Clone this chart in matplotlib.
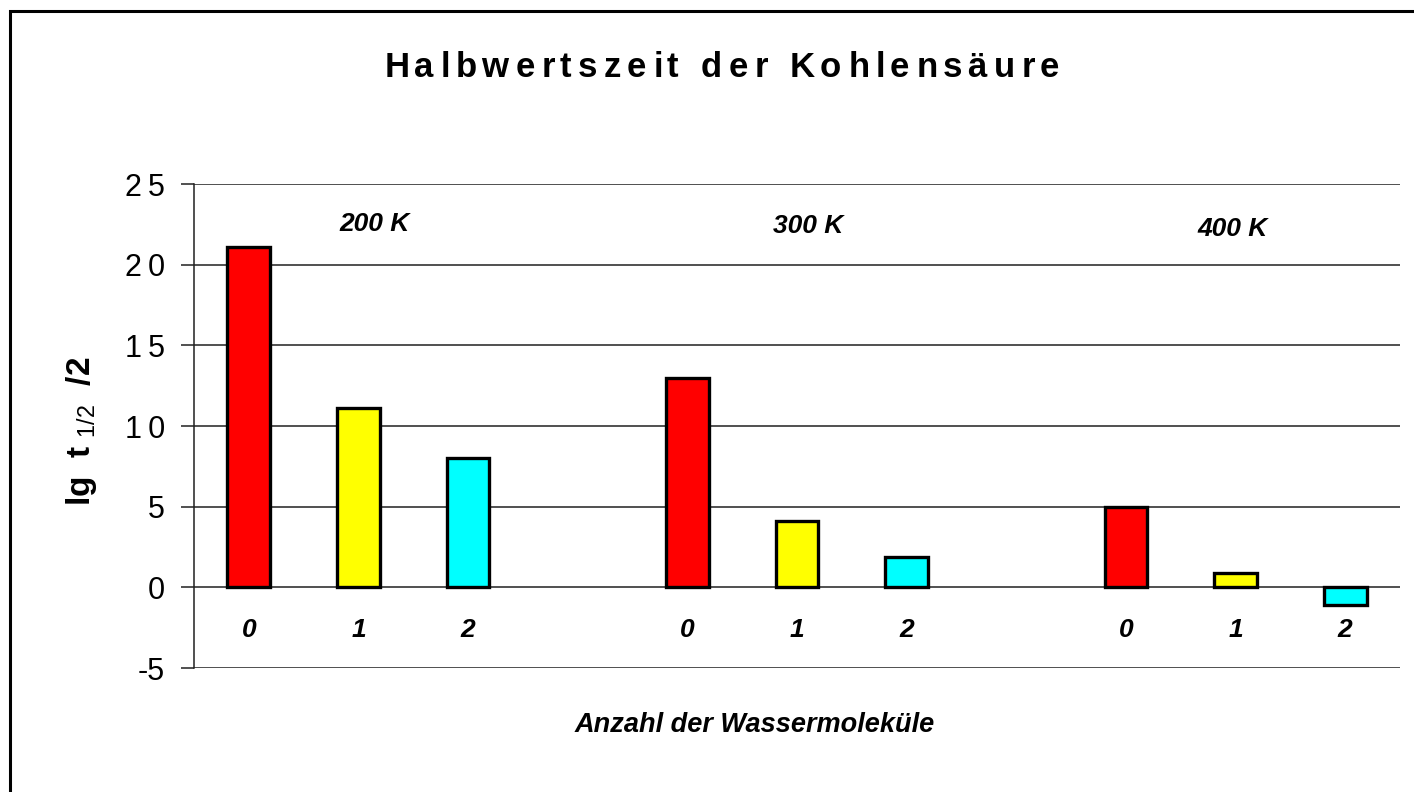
import matplotlib
matplotlib.use("Agg")
import matplotlib.pyplot as plt
from matplotlib.patches import Rectangle
from matplotlib.ticker import FuncFormatter
from matplotlib.font_manager import FontProperties, findfont, get_font

# lg t1/2 /2 per temperature, for 0, 1 and 2 water molecules
temps = ["200 K", "300 K", "400 K"]
n_water = ["0", "1", "2"]
lg_t_200 = [21.1, 11.1, 8.0]
lg_t_300 = [13.0, 4.1, 1.9]
lg_t_400 = [5.0, 0.9, -1.1]
bar_colors = ["#ff0000", "#ffff00", "#00ffff"]
temp_label_x = [1.15, 5.1, 8.97]
temp_label_y = [22.5, 22.4, 22.2]

W, H, DPI = 1414, 792, 100

plt.rcParams["font.family"] = ["Liberation Sans", "DejaVu Sans"]
plt.rcParams["axes.unicode_minus"] = False
plt.rcParams["mathtext.fontset"] = "custom"
plt.rcParams["mathtext.rm"] = "Liberation Sans"
plt.rcParams["mathtext.bf"] = "Liberation Sans:bold"
plt.rcParams["mathtext.it"] = "Liberation Sans:italic"

fig = plt.figure(figsize=(W / DPI, H / DPI), dpi=DPI)
ax = fig.add_axes([194 / W, 1 - 668 / H, (1400 - 194) / W, (668 - 184) / H])


def spaced_text(s, cx, baseline, size, track):
    # draw s glyph by glyph with extra tracking (pixels) between letters
    prop = FontProperties(family="Liberation Sans", weight="bold", size=size)
    font = get_font(findfont(prop))
    font.set_size(size, DPI)
    glyphs = [font.load_char(ord(c)) for c in s]
    adv = [g.linearHoriAdvance / 65536 + track for g in glyphs]
    x = cx - (sum(adv) - track) / 2
    for c, g, a in zip(s, glyphs, adv):
        if c != " ":
            fig.text((x + g.horiBearingX / 64) / W, 1 - baseline / H, c,
                     fontproperties=prop, ha="left", va="baseline")
        x += a


def tick_fmt(v, pos):
    # spread the digits of the tick labels a little, keep "-5" tight
    s = f"{v:.0f}"
    return s if v < 0 else "\u2009".join(s)


groups = [lg_t_200, lg_t_300, lg_t_400]
for gi, vals in enumerate(groups):
    xs = [gi * 4 + j for j in range(len(vals))]
    ax.bar(xs, vals, width=0.39, color=bar_colors, edgecolor="black",
           linewidth=2.4, zorder=3)
    for x, lab in zip(xs, n_water):
        ax.text(x, -2.65, lab, ha="center", va="center", fontsize=19,
                fontweight="bold", fontstyle="italic")
    ax.text(temp_label_x[gi], temp_label_y[gi], temps[gi], ha="center",
            va="center", fontsize=19, fontweight="bold", fontstyle="italic")

ax.set_xlim(-0.5, 10.5)
ax.set_ylim(-5, 25)
ax.set_yticks(range(-5, 26, 5))
ax.yaxis.set_major_formatter(FuncFormatter(tick_fmt))
ax.set_xticks([])
ax.grid(axis="y", color="#202020", linewidth=1.1, zorder=0)
for side in ["top", "right", "bottom"]:
    ax.spines[side].set_visible(False)
ax.spines["left"].set_linewidth(1.1)
ax.spines["left"].set_color("#202020")
ax.tick_params(axis="y", direction="out", length=9.4, width=1.1,
               color="#202020", pad=11.5, labelsize=22)

ax.set_ylabel(r"$\mathbf{lg\ \ t}\ _{\mathrm{1/2}}\ \ \mathbf{/2}$", fontsize=24)
ax.yaxis.set_label_coords(-0.079, 0.49)
ax.set_xlabel("Anzahl der Wassermoleküle", fontsize=19.5, fontweight="bold",
              fontstyle="italic")
ax.xaxis.set_label_coords(0.465, -0.091)

spaced_text("Halbwertszeit der Kohlensäure", 720, 77, 25, 6.0)

# outer frame, only left and top edges fall inside the canvas
fig.add_artist(Rectangle((10.3 / W, -1), 5, 1 + (1 - 10.5 / H),
                         transform=fig.transFigure, fill=False,
                         edgecolor="black", linewidth=2.2, clip_on=False))

fig.savefig("out.png", dpi=DPI)
